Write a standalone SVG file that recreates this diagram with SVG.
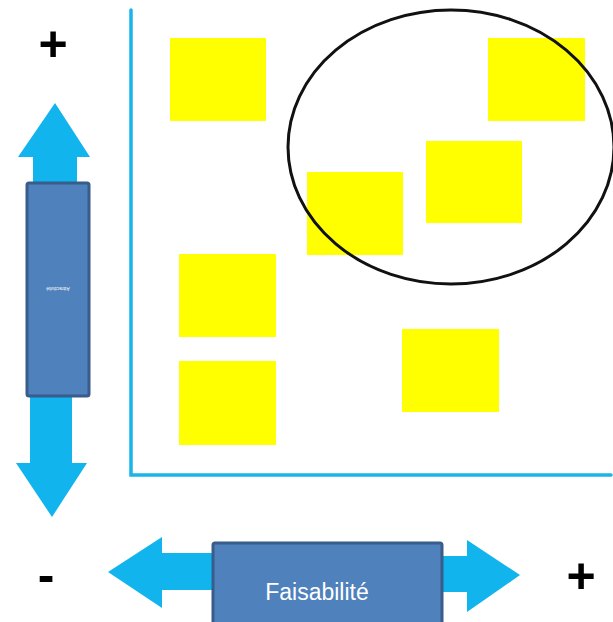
<svg xmlns="http://www.w3.org/2000/svg" width="613" height="622" viewBox="0 0 613 622">
<style>
.note{fill:#FFFF00}
.axis{stroke:#1AB3EA;stroke-width:3.5;fill:none;stroke-linecap:round}
.arrow{fill:#12B4EE}
.box{fill:#4F81BD;stroke:#385D8A;stroke-width:3}
.sign{font-family:"Liberation Sans",Arial,sans-serif;font-weight:bold;fill:#000;text-anchor:middle}
.lbl{font-family:"Liberation Sans",Arial,sans-serif;fill:#fff;text-anchor:middle}
</style>
<rect width="613" height="622" fill="#fff"/>
<g id="axes">
<path class="axis" d="M131,10 V475 H611"/>
</g>
<g id="notes">
<rect id="n1" class="note" x="170" y="38" width="96" height="83"/>
<rect id="n2" class="note" x="488" y="38" width="97" height="83"/>
<rect id="n3" class="note" x="426" y="141" width="96" height="82"/>
<rect id="n4" class="note" x="307" y="172" width="96" height="83"/>
<rect id="n5" class="note" x="179" y="254" width="97" height="83"/>
<rect id="n6" class="note" x="179" y="361" width="97" height="84"/>
<rect id="n7" class="note" x="402" y="329" width="97" height="83"/>
</g>
<g id="highlight">
<ellipse cx="451" cy="147" rx="163" ry="137" fill="none" stroke="#111" stroke-width="3"/>
</g>
<g id="vertical-arrow">
<polygon class="arrow" points="55,103 90,157 77,157 77,200 33,200 33,157 18,157"/>
<polygon class="arrow" points="30,380 72,380 72,463 87,463 52,517 16,463 30,463"/>
<rect class="box" x="27" y="183" width="62" height="213" rx="2"/>
<text class="lbl" x="58" y="290" font-size="5" transform="rotate(180 58 288.5)">Attractivité</text>
</g>
<g id="horizontal-arrow">
<polygon class="arrow" points="108,572 162,537 162,553 230,553 230,590 162,590 162,608"/>
<polygon class="arrow" points="420,556 467,556 467,540 520,575 467,612 467,592 420,592"/>
<rect class="box" x="213" y="543" width="229" height="82" rx="2"/>
<text class="lbl" x="317" y="600" font-size="23">Faisabilité</text>
</g>
<g id="signs">
<text class="sign" x="53" y="61" font-size="50">+</text>
<text class="sign" x="46" y="592" font-size="50">-</text>
<text class="sign" x="581" y="593" font-size="50">+</text>
</g>
</svg>
